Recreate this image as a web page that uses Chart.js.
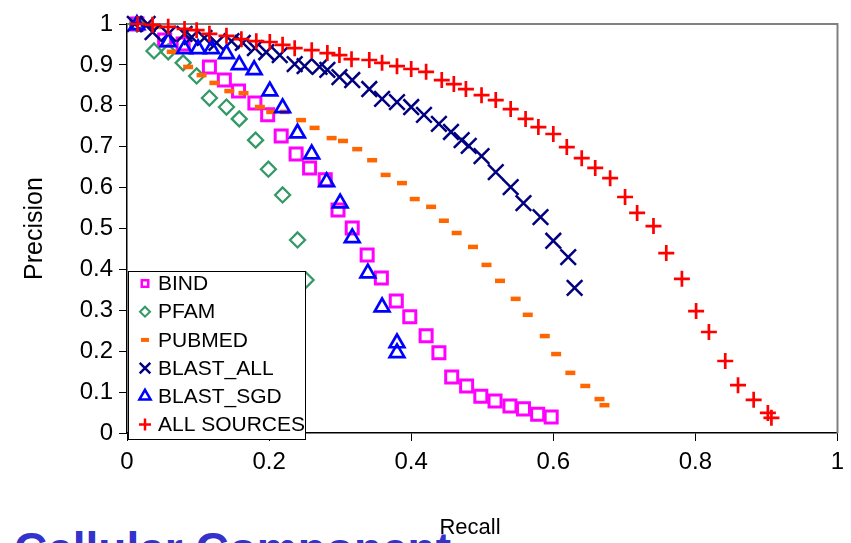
<!DOCTYPE html>
<html>
<head>
<meta charset="utf-8">
<script src="https://cdn.jsdelivr.net/npm/chart.js@4.4.1/dist/chart.umd.min.js"></script>
<style>
    html, body { margin: 0; padding: 0; background: #fff; overflow: hidden; }
    #wrap { position: relative; width: 851px; height: 543px; }
    #slideTitle {
        position: absolute; left: 14px; top: 526px;
        font: bold 46px "Liberation Sans", Arial, sans-serif;
        line-height: 46px; color: #3333cc; white-space: nowrap;
    }
    #myChart { position: absolute; left: 0; top: 0; }
</style>
</head>
<body>
<div id="wrap">
    <div id="slideTitle">Cellular Component</div>
    <canvas id="myChart" width="851" height="543"></canvas>
</div>
<script>
// values (recall on x, precision on y)
const bindRecall = [0.014, 0.053, 0.079, 0.116, 0.137, 0.157, 0.180, 0.198, 0.217, 0.238, 0.257, 0.279, 0.297, 0.317, 0.338, 0.358, 0.379, 0.398, 0.421, 0.439, 0.457, 0.478, 0.498, 0.518, 0.539, 0.558, 0.578, 0.597];
const bindPrecision = [1.0, 0.961, 0.951, 0.895, 0.863, 0.836, 0.807, 0.778, 0.726, 0.682, 0.648, 0.619, 0.545, 0.501, 0.435, 0.379, 0.323, 0.284, 0.238, 0.196, 0.137, 0.115, 0.090, 0.078, 0.066, 0.059, 0.046, 0.039];

const pfamRecall = [0.014, 0.038, 0.058, 0.079, 0.098, 0.116, 0.140, 0.158, 0.181, 0.199, 0.219, 0.240, 0.252];
const pfamPrecision = [1.0, 0.934, 0.932, 0.905, 0.873, 0.819, 0.797, 0.768, 0.716, 0.645, 0.582, 0.472, 0.374];

const pubmedRecall = [0.042, 0.063, 0.086, 0.105, 0.123, 0.144, 0.164, 0.187, 0.203, 0.222, 0.245, 0.264, 0.288, 0.304, 0.324, 0.345, 0.364, 0.387, 0.405, 0.428, 0.446, 0.464, 0.487, 0.506, 0.525, 0.547, 0.564, 0.588, 0.604, 0.624, 0.645, 0.665, 0.672];
const pubmedPrecision = [0.993, 0.932, 0.895, 0.875, 0.856, 0.836, 0.831, 0.797, 0.785, 0.785, 0.765, 0.746, 0.721, 0.714, 0.694, 0.667, 0.631, 0.611, 0.572, 0.553, 0.519, 0.489, 0.455, 0.411, 0.372, 0.328, 0.289, 0.237, 0.193, 0.147, 0.115, 0.083, 0.068];

const blastAllRecall = [0.011, 0.029, 0.036, 0.058, 0.081, 0.091, 0.109, 0.126, 0.147, 0.163, 0.180, 0.196, 0.215, 0.236, 0.250, 0.271, 0.282, 0.299, 0.317, 0.341, 0.359, 0.380, 0.400, 0.418, 0.439, 0.456, 0.471, 0.481, 0.499, 0.519, 0.540, 0.558, 0.582, 0.600, 0.621, 0.630];
const blastAllPrecision = [1.0, 1.0, 0.980, 0.976, 0.976, 0.968, 0.966, 0.954, 0.958, 0.954, 0.941, 0.931, 0.924, 0.902, 0.897, 0.895, 0.888, 0.870, 0.863, 0.841, 0.817, 0.809, 0.797, 0.778, 0.756, 0.736, 0.716, 0.702, 0.677, 0.638, 0.601, 0.562, 0.528, 0.470, 0.430, 0.355];

const blastSgdRecall = [0.014, 0.058, 0.081, 0.100, 0.119, 0.140, 0.158, 0.179, 0.201, 0.219, 0.240, 0.260, 0.281, 0.300, 0.317, 0.339, 0.359, 0.380, 0.380];
const blastSgdPrecision = [0.998, 0.956, 0.939, 0.939, 0.939, 0.927, 0.900, 0.888, 0.836, 0.795, 0.733, 0.682, 0.614, 0.562, 0.477, 0.391, 0.308, 0.220, 0.196];

const allRecall = [0.015, 0.036, 0.058, 0.081, 0.098, 0.116, 0.140, 0.161, 0.182, 0.201, 0.219, 0.236, 0.260, 0.282, 0.299, 0.316, 0.341, 0.359, 0.380, 0.400, 0.421, 0.443, 0.460, 0.477, 0.499, 0.519, 0.540, 0.561, 0.579, 0.600, 0.619, 0.640, 0.659, 0.680, 0.701, 0.718, 0.741, 0.759, 0.781, 0.801, 0.819, 0.842, 0.860, 0.882, 0.902, 0.907];
const allPrecision = [1.0, 0.998, 0.993, 0.988, 0.985, 0.976, 0.971, 0.963, 0.958, 0.956, 0.949, 0.941, 0.936, 0.929, 0.924, 0.914, 0.912, 0.905, 0.897, 0.890, 0.883, 0.863, 0.853, 0.841, 0.826, 0.814, 0.792, 0.768, 0.748, 0.731, 0.699, 0.672, 0.648, 0.623, 0.577, 0.538, 0.506, 0.440, 0.377, 0.298, 0.247, 0.176, 0.117, 0.081, 0.049, 0.037];

const pts = (xs, ys) => xs.map((x, i) => ({ x: x, y: ys[i] }));
const tickText = v => String(Number(v.toFixed(2)));

const FONT = '"Liberation Sans", Arial, sans-serif';
const NONE = 'rgba(0,0,0,0)';

// later series are drawn on top, like the original spreadsheet chart
const datasets = [
    { label: 'BIND', data: pts(bindRecall, bindPrecision), pointStyle: 'rect', pointRadius: 8.5, pointBorderWidth: 3, borderColor: '#ff00ff', legendRadius: 4.6, legendWidth: 2.5, order: 6 },
    { label: 'PFAM', data: pts(pfamRecall, pfamPrecision), pointStyle: 'rectRot', pointRadius: 7.5, pointBorderWidth: 2.3, borderColor: '#339966', legendRadius: 5, legendWidth: 2, order: 5 },
    { label: 'PUBMED', data: pts(pubmedRecall, pubmedPrecision), pointStyle: 'line', pointRadius: 5, pointBorderWidth: 4.5, borderColor: '#ff6600', legendRadius: 4, legendWidth: 4, order: 4 },
    { label: 'BLAST_ALL', data: pts(blastAllRecall, blastAllPrecision), pointStyle: 'crossRot', pointRadius: 11, pointBorderWidth: 2.5, borderColor: '#000080', legendRadius: 7.5, legendWidth: 2.5, order: 3 },
    { label: 'BLAST_SGD', data: pts(blastSgdRecall, blastSgdPrecision), pointStyle: 'triangle', pointRadius: 8.5, pointBorderWidth: 2.7, borderColor: '#0000ff', legendRadius: 6.5, legendWidth: 2.5, order: 2 },
    { label: 'ALL SOURCES', data: pts(allRecall, allPrecision), pointStyle: 'cross', pointRadius: 8, pointBorderWidth: 2.7, borderColor: '#ff0000', legendRadius: 6, legendWidth: 2.5, order: 1 }
].map(d => Object.assign(d, { showLine: false, backgroundColor: NONE, pointBackgroundColor: NONE, pointBorderColor: d.borderColor, clip: false }));

// gray frame on the top and right of the plot area
const plotFrame = {
    id: 'plotFrame',
    beforeDatasetsDraw(chart) {
        const { ctx, chartArea: a } = chart;
        ctx.save();
        ctx.strokeStyle = '#808080';
        ctx.lineWidth = 2;
        ctx.beginPath();
        ctx.moveTo(a.left, a.top);
        ctx.lineTo(a.right, a.top);
        ctx.lineTo(a.right, a.bottom);
        ctx.stroke();
        ctx.restore();
    }
};

// boxed legend sitting in the lower left of the plot
const boxLegend = {
    id: 'boxLegend',
    afterDraw(chart) {
        const ctx = chart.ctx;
        const x0 = 128.5, y0 = 271.5, w = 177, h = 168;
        ctx.save();
        ctx.fillStyle = '#fff';
        ctx.fillRect(x0, y0, w, h);
        ctx.strokeStyle = '#000';
        ctx.lineWidth = 1;
        ctx.strokeRect(x0, y0, w, h);
        chart.data.datasets.forEach((ds, i) => {
            const cy = 283.5 + i * 28.2;
            ctx.strokeStyle = ds.borderColor;
            ctx.fillStyle = NONE;
            ctx.lineWidth = ds.legendWidth;
            Chart.helpers.drawPoint(ctx, { pointStyle: ds.pointStyle, radius: ds.legendRadius, borderWidth: ds.legendWidth, rotation: 0 }, 145, cy);
            ctx.fillStyle = '#000';
            ctx.font = '21px ' + FONT;
            ctx.textBaseline = 'middle';
            ctx.textAlign = 'left';
            ctx.fillText(ds.label, 158, cy + 1);
        });
        ctx.restore();
    }
};

const config = {
    type: 'scatter',
    data: { datasets: datasets },
    options: {
        responsive: false,
        animation: false,
        events: [],
        layout: { padding: { top: 24, right: 11, left: 0, bottom: 0 } },
        plugins: { legend: { display: false }, tooltip: { enabled: false } },
        scales: {
            x: {
                min: 0, max: 1,
                afterFit: s => { s.height = 110; s.paddingLeft = 0; s.paddingRight = 0; },
                ticks: { stepSize: 0.2, color: '#000', padding: 7, font: { family: FONT, size: 24 }, callback: tickText },
                grid: { drawOnChartArea: false, color: '#000', tickLength: 8 },
                border: { color: '#000', width: 1.5 },
                // trailing spaces nudge the centred word left, where the original sits
                title: { display: true, text: 'Recall    ', color: '#000', padding: { top: 0, bottom: 2 }, font: { family: '"Liberation Sans Narrow", ' + FONT, size: 22 } }
            },
            y: {
                min: 0, max: 1,
                afterFit: s => { s.width = 127; s.paddingTop = 0; s.paddingBottom = 0; },
                ticks: { stepSize: 0.1, color: '#000', padding: 6, font: { family: FONT, size: 24 }, callback: tickText },
                grid: { drawOnChartArea: false, color: '#000', tickLength: 8 },
                border: { color: '#000', width: 1.5 },
                title: { display: true, text: 'Precision', color: '#000', padding: { top: 20, bottom: 0 }, font: { family: FONT, size: 25 } }
            }
        }
    },
    plugins: [plotFrame, boxLegend]
};

const ctx = document.getElementById('myChart').getContext('2d');
const myChart = new Chart(ctx, config);
</script>
</body>
</html>
